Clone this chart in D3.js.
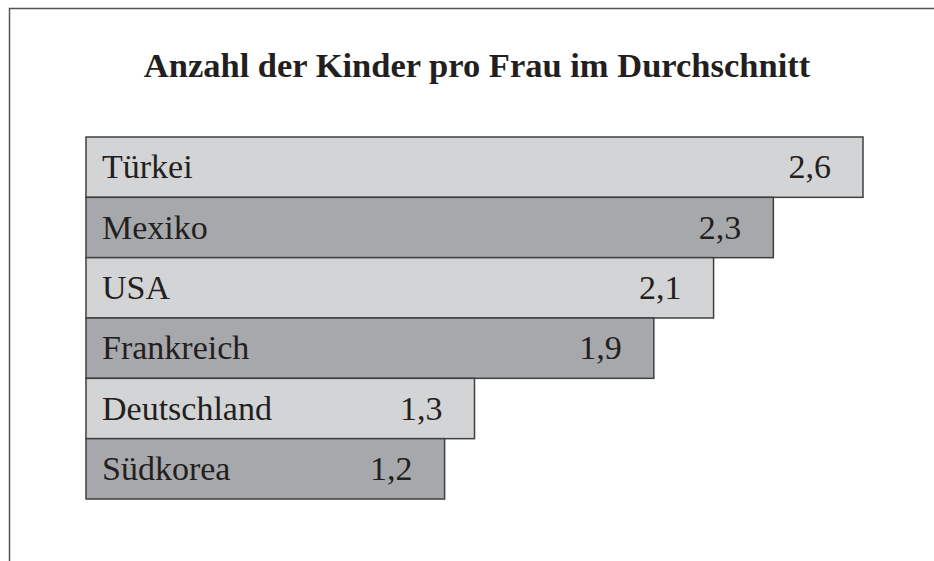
<!DOCTYPE html>
<html>
<head>
  <meta charset="utf-8">
  <script src="https://cdn.jsdelivr.net/npm/d3@7"></script>
  <style>
    * { margin: 0; padding: 0; }
    body { background: #fff; }
    text { font-family: "Liberation Serif", "Times New Roman", serif; fill: #231f20; }
  </style>
</head>
<body>
  <script>
    // data
    var countries = ["Türkei", "Mexiko", "USA", "Frankreich", "Deutschland", "Südkorea"];
    var kinder = [2.6, 2.3, 2.1, 1.9, 1.3, 1.2];
    var fills = ["#d3d4d6", "#a7a8ab"];
    var title = "Anzahl der Kinder pro Frau im Durchschnitt";

    var w = 934, h = 561;

    var svg = d3.select("body").append("svg")
      .attr("width", w)
      .attr("height", h);

    // frame, only top and left edge visible
    svg.append("path")
      .attr("d", "M9.5," + h + "V8.5H" + w)
      .attr("fill", "none")
      .attr("stroke", "#555")
      .attr("stroke-width", 1.5);

    svg.append("text")
      .attr("x", 477)
      .attr("y", 77)
      .attr("text-anchor", "middle")
      .style("font-size", "34.5px")
      .style("font-weight", "bold")
      .text(title);

    var x = d3.scaleLinear()
      .domain([0, 2.6])
      .range([86, 863]);

    var y = d3.scaleBand()
      .domain(countries)
      .range([137, 499])
      .padding(0);

    var data = countries.map(function(c, i) { return { land: c, wert: kinder[i] }; });
    var fmt = function(v) { return d3.format(".1f")(v).replace(".", ","); };

    var bars = svg.selectAll("g.bar")
      .data(data)
      .enter()
      .append("g")
      .attr("class", "bar");

    bars.append("rect")
      .attr("x", x(0))
      .attr("y", function(d) { return y(d.land); })
      .attr("width", function(d) { return x(d.wert) - x(0); })
      .attr("height", y.bandwidth())
      .attr("fill", function(d, i) { return fills[i % 2]; })
      .attr("stroke", "#3f3f3f")
      .attr("stroke-width", 1.5);

    bars.append("text")
      .attr("x", x(0) + 16)
      .attr("y", function(d) { return y(d.land) + y.bandwidth() / 2 + 11; })
      .style("font-size", "34px")
      .text(function(d) { return d.land; });

    bars.append("text")
      .attr("x", function(d) { return x(d.wert) - 32; })
      .attr("y", function(d) { return y(d.land) + y.bandwidth() / 2 + 11; })
      .attr("text-anchor", "end")
      .style("font-size", "34px")
      .text(function(d) { return fmt(d.wert); });
  </script>
</body>
</html>
